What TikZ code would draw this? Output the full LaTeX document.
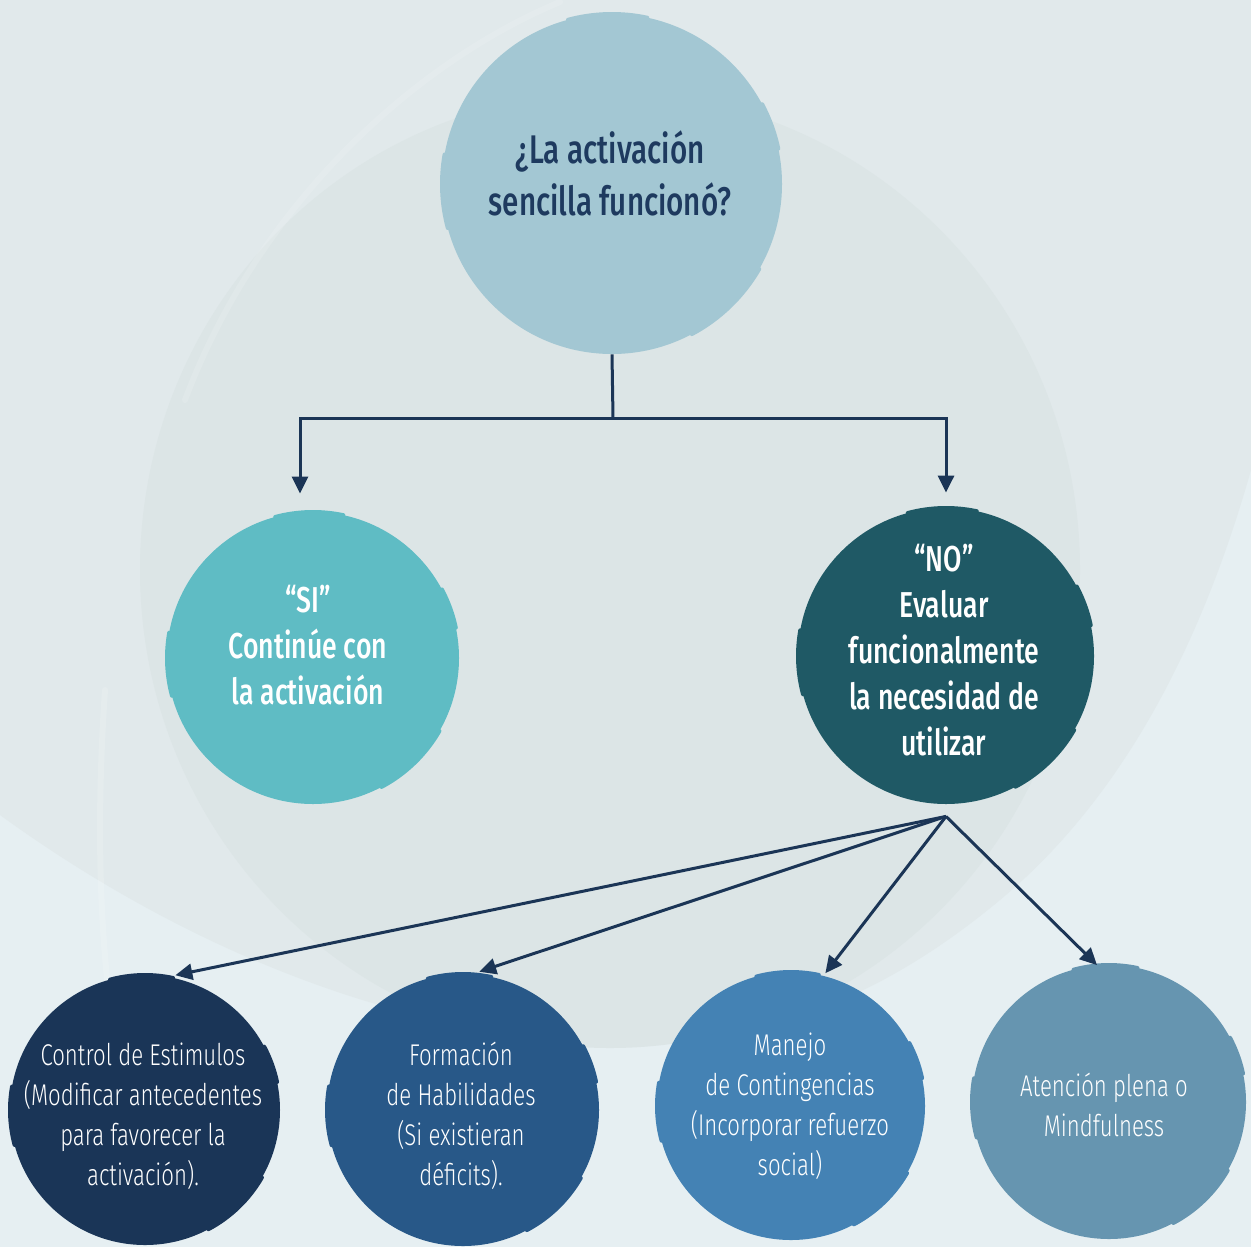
\documentclass[tikz,border=0pt]{standalone}
\usepackage{fontspec}
\setmainfont{Fira Sans}[FakeStretch=0.74]
\newfontfamily\medfont{Fira Sans Medium}[FakeStretch=0.74]
\newfontfamily\litefont{Fira Sans Light}[FakeStretch=0.74]
\usetikzlibrary{arrows.meta}

\definecolor{bgbase}{HTML}{E6EFF2}
\definecolor{bgmid}{HTML}{E1E9EB}
\definecolor{bgcore}{HTML}{DCE5E6}
\definecolor{qfill}{HTML}{A3C7D3}
\definecolor{sifill}{HTML}{5FBCC4}
\definecolor{nofill}{HTML}{1F5965}
\definecolor{fillA}{HTML}{1A3557}
\definecolor{fillB}{HTML}{285888}
\definecolor{fillC}{HTML}{4482B4}
\definecolor{fillD}{HTML}{6695B0}
\definecolor{ink}{HTML}{1B3556}
\definecolor{qtext}{HTML}{1E3A5F}

\tikzset{
  disc/.style={circle, inner sep=0pt, draw=none},
  headtxt/.style={align=center, font=\medfont\fontsize{20}{26}\selectfont, text=qtext},
  midtxt/.style={align=center, font=\medfont\fontsize{18}{23}\selectfont, text=white},
  lowtxt/.style={align=center, font=\litefont\fontsize{15}{20}\selectfont, text=white},
  link/.style={draw=ink, line width=1.5pt},
  arrow/.style={link, -{Triangle[width=8pt,length=8.5pt]}},
  brush/.style={line width=2pt, line cap=round},
}

\begin{document}
\begin{tikzpicture}[x=0.5pt, y=-0.5pt]
  % backdrop
  \fill[bgbase] (0,0) rectangle (1251,1247);
  \useasboundingbox (0,0) rectangle (1251,1247);
  \begin{scope}
    \clip (0,0) rectangle (1251,1247);
    \fill[bgmid] (0,0) -- (1251,0) -- (1251,470)
      .. controls (1200,650) and (1120,800) .. (1000,900)
      .. controls (880,1000) and (760,1045) .. (620,1043)
      .. controls (420,1040) and (200,960) .. (0,815) -- cycle;
    \fill[bgcore] (610,570) ellipse [x radius=470, y radius=478];
    \draw[white, opacity=0.15, line width=3pt, line cap=round]
      (105,690) .. controls (92,880) and (105,1040) .. (140,1150);
    \draw[white, opacity=0.12, line width=3pt, line cap=round]
      (560,2) .. controls (420,60) and (260,200) .. (185,400);
  \end{scope}

  % circles
  \node[disc, fill=qfill,  minimum size=170pt] (q)  at (612,184) {};
  \node[disc, fill=sifill, minimum size=146pt] (si) at (313,658) {};
  \node[disc, fill=nofill, minimum size=148pt] (no) at (946,656) {};
  \node[disc, fill=fillA,  minimum size=135pt] (ca) at (145,1110) {};
  \node[disc, fill=fillB,  minimum size=136pt] (cb) at (463,1110) {};
  \node[disc, fill=fillC,  minimum size=134pt] (cc) at (791,1106) {};
  \node[disc, fill=fillD,  minimum size=137pt] (cd) at (1109,1102) {};

  % ragged brush edges
  \foreach \c/\col/\r in {q/qfill/170, si/sifill/146, no/nofill/148, ca/fillA/135, cb/fillB/136, cc/fillC/134, cd/fillD/137}{
    \foreach \a/\b in {30/62, 165/190, 255/282, 332/348}{
      \draw[brush, \col] (\c) ++(\a:\r) arc[start angle=\a, end angle=\b, radius=\r];
    }
  }

  % labels
  \node[headtxt] (qt)  at (610,173)  {¿La activación\\sencilla funcionó?};
  \node[midtxt]  (sit) at (308,645)  {“SI”\\Continúe con\\la activación};
  \node[midtxt]  (nt)  at (944,650)  {“NO”\\Evaluar\\funcionalmente\\la necesidad de\\utilizar};
  \node[lowtxt]  (cat) at (143,1116) {Control de Estimulos\\(Modificar antecedentes\\para favorecer la\\activación).};
  \node[lowtxt]  (cbt) at (461,1116) {Formación\\de Habilidades\\(Si existieran\\déficits).};
  \node[lowtxt]  (cct) at (790,1106) {Manejo\\de Contingencias\\(Incorporar refuerzo\\social)};
  \node[lowtxt]  (cdt) at (1104,1105) {Atención plena o\\Mindfulness};

  % connectors
  \coordinate (split) at (613,418);
  \draw[link] (q.south) -- (split);
  \draw[arrow] (split) -| ([xshift=-6.5pt, yshift=9pt]si.north);
  \draw[arrow] (split) -| ([yshift=7.5pt]no.north);

  \coordinate (fork) at ([yshift=-6pt]no.south);
  \draw[arrow, shorten >=3.5pt] (fork) -- (ca.80);
  \draw[arrow, shorten >=3.5pt] (fork) -- (cb.86);
  \draw[arrow, shorten >=1.5pt] (fork) -- (cc.76);
  \draw[arrow] (fork) -- (cd.95);
\end{tikzpicture}
\end{document}
